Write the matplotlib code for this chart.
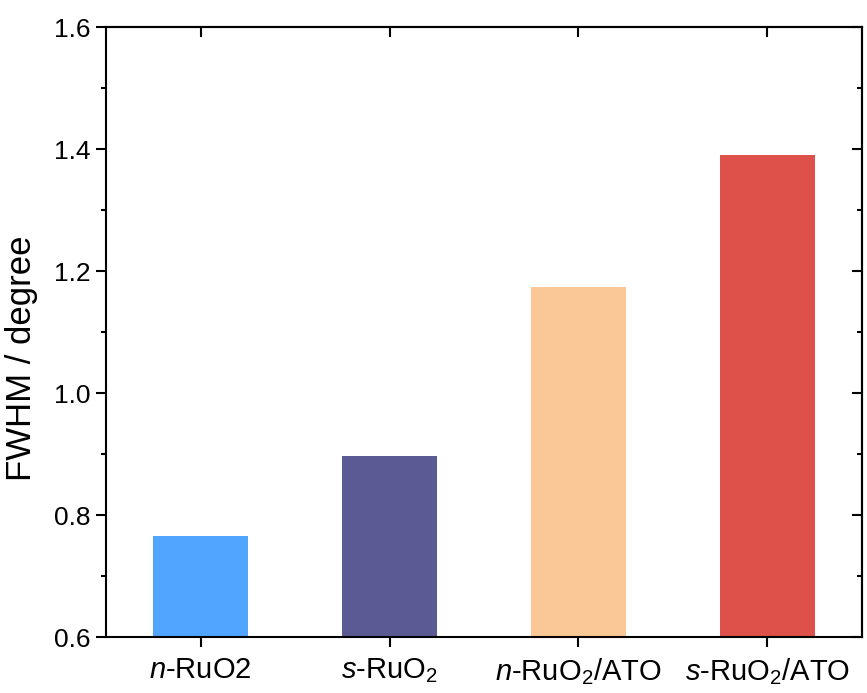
import matplotlib
matplotlib.use("Agg")
import matplotlib.pyplot as plt
from matplotlib.ticker import MultipleLocator

plt.rcParams['font.family'] = ['Liberation Sans', 'DejaVu Sans']
plt.rcParams['mathtext.fontset'] = 'custom'
plt.rcParams['mathtext.rm'] = 'Liberation Sans'
plt.rcParams['mathtext.it'] = 'Liberation Sans:italic'
plt.rcParams['mathtext.default'] = 'rm'

categories = [r'$\it{n}$-RuO2', r'$\it{s}$-RuO$_2$', r'$\it{n}$-RuO$_2$/ATO', r'$\it{s}$-RuO$_2$/ATO']
values = [0.766, 0.896, 1.174, 1.390]
colors = ['#50A6FF', '#5A5B94', '#FAC896', '#DE504A']

fig = plt.figure(figsize=(8.67, 6.93), dpi=100)
ax = fig.add_axes([0.1223, 0.0808, 0.8719, 0.8802])
x = list(range(len(categories)))
ax.bar(x, [v - 0.6 for v in values], bottom=0.6, width=0.5, color=colors)
ax.set_xlim(-0.5, 3.5)
ax.set_ylim(0.6, 1.6)
ax.set_xticks(x)
ax.set_xticklabels(categories, fontsize=21)
ax.yaxis.set_major_locator(MultipleLocator(0.2))
ax.yaxis.set_minor_locator(MultipleLocator(0.1))
ax.set_yticklabels([f'{t:.1f}' for t in ax.get_yticks()], fontsize=19)
ax.set_ylabel('FWHM / degree', fontsize=25)
ax.yaxis.set_label_coords(-0.09, 0.457)
for s in ax.spines.values():
    s.set_linewidth(1.5)
ax.tick_params(axis='both', which='major', direction='out', length=7.5, width=1.5, top=False, right=False)
ax.tick_params(axis='x', which='major', pad=6)
ax.tick_params(axis='y', which='minor', direction='out', length=3.5, width=1.5)
ax.tick_params(axis='x', which='minor', bottom=False)
# mirrored inward ticks on top and right
sec_y = ax.secondary_yaxis('right')
sec_y.yaxis.set_major_locator(MultipleLocator(0.2))
sec_y.yaxis.set_minor_locator(MultipleLocator(0.1))
sec_y.tick_params(which='major', direction='in', length=7.5, width=1.5, labelright=False)
sec_y.tick_params(which='minor', direction='in', length=3.5, width=1.5)
sec_y.spines['right'].set_linewidth(1.5)
sec_x = ax.secondary_xaxis('top')
sec_x.set_xticks(x)
sec_x.tick_params(which='major', direction='in', length=7.5, width=1.5, labeltop=False)
sec_x.tick_params(which='minor', top=False)
sec_x.spines['top'].set_linewidth(1.5)
fig.savefig('out.png', dpi=100)
